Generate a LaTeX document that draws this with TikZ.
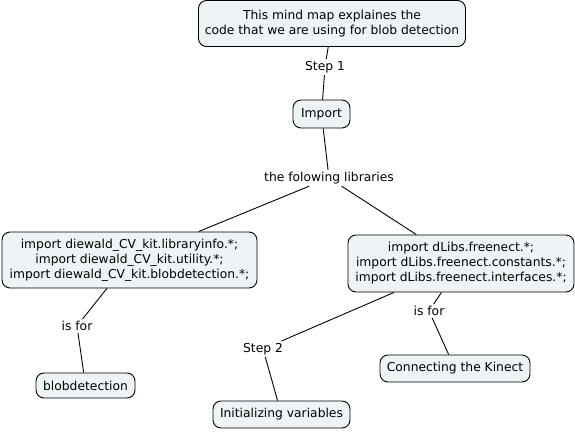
\documentclass[tikz,border=0pt]{standalone}
\usepackage{fontspec}
\setmainfont{DejaVu Sans}
\usepackage{xcolor}
\usepackage{tikz}
\usetikzlibrary{positioning}
\definecolor{conceptfill}{RGB}{238,243,246}

\begin{document}
\begin{tikzpicture}[
  x=1pt, y=-1pt,
  concept/.style={draw, rounded corners=8pt, fill=conceptfill, line width=0.9pt,
                  align=center, inner sep=3pt, font=\fontsize{12.3}{15}\selectfont},
  linkword/.style={inner sep=2pt, align=center, font=\fontsize{12.3}{15}\selectfont},
  link/.style={-, line width=0.9pt},
]
  \useasboundingbox (0,0) rectangle (575,431);

  \node[concept, minimum width=267pt, minimum height=46pt] (intro) at (332,23.5)
    {This mind map explaines the\\code that we are using for blob detection};
  \node[linkword] (step1) at (325,67) {Step 1};
  \node[concept, minimum width=57pt, minimum height=28pt] (import) at (321.5,114) {Import};
  \node[linkword] (libs) at (329,178) {the folowing libraries};
  \node[concept, minimum width=255pt, minimum height=56pt] (kitlib) at (129.5,260)
    {import diewald\_CV\_kit.libraryinfo.*;\\import diewald\_CV\_kit.utility.*;\\import diewald\_CV\_kit.blobdetection.*;};
  \node[concept, minimum width=226pt, minimum height=57pt] (dlib) at (461,263.5)
    {import dLibs.freenect.*;\\import dLibs.freenect.constants.*;\\import dLibs.freenect.interfaces.*;};
  \node[linkword] (isfor1) at (77,326) {is for};
  \node[concept, minimum width=99pt, minimum height=25pt] (blob) at (85.5,385.5) {blobdetection};
  \node[linkword] (step2) at (263,349) {Step 2};
  \node[concept, minimum width=137pt, minimum height=27pt] (init) at (281.5,414.5) {Initializing variables};
  \node[linkword] (isfor2) at (429,311) {is for};
  \node[concept, minimum width=150pt, minimum height=27pt] (kinect) at (455,368.5) {Connecting the Kinect};

  \draw[link] (intro) -- (step1);
  \draw[link] (step1) -- (import);
  \draw[link] (import) -- (libs);
  \draw[link] (libs) -- (kitlib);
  \draw[link] (libs) -- (dlib);
  \draw[link] (kitlib) -- (isfor1);
  \draw[link] (isfor1) -- (blob);
  \draw[link] (dlib) -- (step2);
  \draw[link] (step2) -- (init);
  \draw[link] (dlib) -- (isfor2);
  \draw[link] (isfor2) -- (kinect);
\end{tikzpicture}
\end{document}
